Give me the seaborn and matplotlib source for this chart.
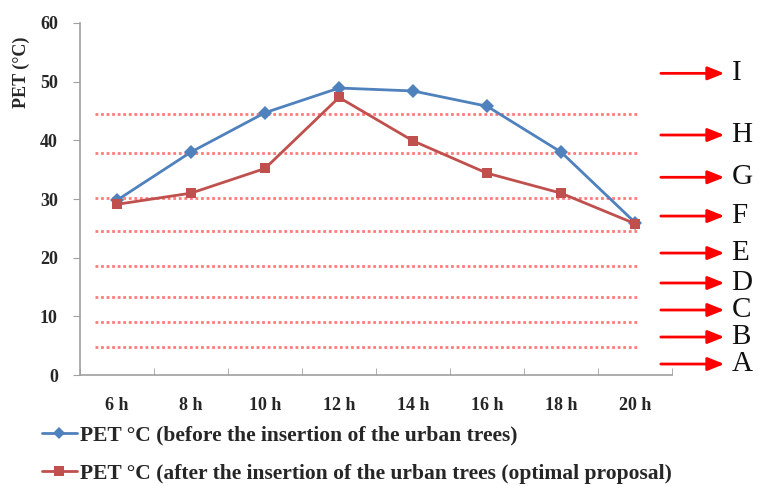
import pandas as pd
import numpy as np
import seaborn as sns
import matplotlib.pyplot as plt
import matplotlib.transforms as mtransforms

# Data
hours = ['6 h', '8 h', '10 h', '12 h', '14 h', '16 h', '18 h', '20 h']
pet_before = [29.8, 38.0, 44.7, 48.9, 48.4, 45.8, 38.0, 26.0]
pet_after = [29.1, 31.0, 35.2, 47.3, 39.9, 34.4, 31.0, 25.8]

label_before = 'PET °C (before the insertion of the urban trees)'
label_after = 'PET °C (after the insertion of the urban trees (optimal proposal)'

# PET class boundaries (dotted red lines) and class labels on the right
class_lines = [44.5, 37.8, 30.2, 24.5, 18.6, 13.3, 9.0, 4.8]
class_names = ['I', 'H', 'G', 'F', 'E', 'D', 'C', 'B', 'A']
class_label_y = [51.4, 40.9, 33.7, 27.1, 20.8, 15.7, 11.1, 6.5, 1.9]

df = pd.DataFrame({
    'hour': hours * 2,
    'pet': pet_before + pet_after,
    'series': [label_before] * len(hours) + [label_after] * len(hours),
})

sns.set_style('white')
plt.rcParams['font.family'] = ['Liberation Serif', 'DejaVu Serif']

fig = plt.figure(figsize=(7.59, 4.86), dpi=100)
ax = fig.add_axes([0.1054, 0.228, 0.78, 0.725])

# dotted class boundary lines
for y in class_lines:
    ax.plot([-0.3, 7.05], [y, y], color='#FF7A7A', linestyle=(0, (1, 1)),
            linewidth=2.0, zorder=1)

sns.lineplot(data=df, x='hour', y='pet', hue='series', style='series',
             palette=['#4F81BD', '#C0504D'], markers=['D', 's'], dashes=False,
             markersize=7.5, linewidth=2, markeredgewidth=0, ax=ax, zorder=3)
# slimmer diamond for the "before" series
ax.lines[-2].set_markersize(6)

ax.set_xlim(-0.5, 7.5)
ax.set_ylim(0, 60)
ax.set_yticks(range(0, 61, 10))
ax.set_xticks(range(len(hours)))
ax.set_xticklabels(hours)
ax.set_xticks(np.arange(-0.5, 7.6, 1), minor=True)
ax.set_xlabel('')
ax.set_ylabel('PET (°C)', fontsize=13, fontweight='bold')
ax.yaxis.set_label_coords(-0.085, 0.86)

for s in ['top', 'right']:
    ax.spines[s].set_visible(False)
for s in ['left', 'bottom']:
    ax.spines[s].set_color('#A0A0A0')
    ax.spines[s].set_linewidth(1.2)

ax.tick_params(axis='y', which='major', left=True, length=5, color='#A0A0A0',
               labelsize=13, pad=11)
ax.tick_params(axis='x', which='major', bottom=False, labelsize=13, pad=12)
ax.tick_params(axis='x', which='minor', bottom=True, direction='in',
               length=5, color='#A0A0A0')
for t in ax.get_xticklabels() + ax.get_yticklabels():
    t.set_fontweight('bold')

# arrows with PET classes on the right
trans = mtransforms.blended_transform_factory(fig.transFigure, ax.transData)
for name, y in zip(class_names, class_label_y):
    ax.annotate('', xy=(0.958, y), xytext=(0.867, y), xycoords=trans,
                textcoords=trans,
                arrowprops=dict(arrowstyle='-|>,head_length=1.0,head_width=0.4',
                                color='#FF0000', lw=2), annotation_clip=False)
    ax.text(0.964, y, name, transform=trans, fontsize=21, va='center',
            ha='left', color='#111111', clip_on=False)

ax.get_legend().remove()
handles = ax.lines[-2:]
fig.legend(handles, [label_before, label_after], loc='lower left',
           bbox_to_anchor=(0.03, -0.035), frameon=False, handlelength=1.6,
           handletextpad=0.15, labelspacing=0.85,
           prop={'weight': 'bold', 'size': 15.5})

plt.savefig('out.png', dpi=100)
